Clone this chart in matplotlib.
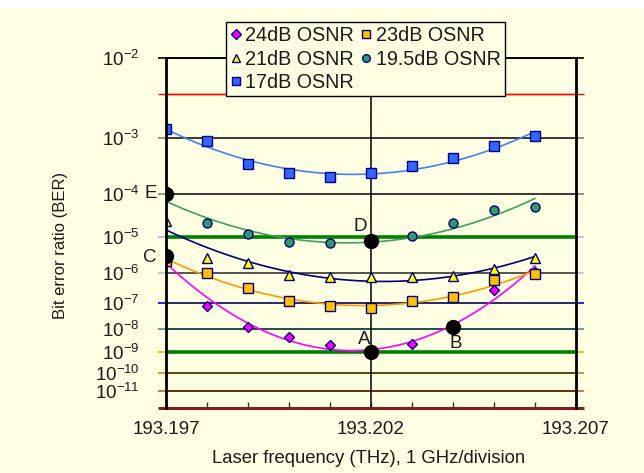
import numpy as np
import matplotlib
matplotlib.use('Agg')
import matplotlib.pyplot as plt
from matplotlib.lines import Line2D
from matplotlib.patches import Rectangle

plt.rcParams['font.family'] = ['Liberation Sans', 'DejaVu Sans']
plt.rcParams['mathtext.fontset'] = 'custom'
plt.rcParams['mathtext.rm'] = 'Liberation Sans'
plt.rcParams['mathtext.it'] = 'Liberation Sans:italic'
plt.rcParams['mathtext.bf'] = 'Liberation Sans:bold'

# ---------------- data ----------------
freq = [193.197, 193.198, 193.199, 193.200, 193.201, 193.202, 193.203, 193.204, 193.205, 193.206]
ber_24 = [3.0e-6, 7.8e-8, 1.26e-8, 4.9e-9, 2.1e-9, 1.0e-9, 2.4e-9, 1.2e-8, 2.85e-7, 1.1e-6]
ber_23 = [2.3e-6, 1.0e-6, 3.3e-7, 1.2e-7, 8.0e-8, 6.5e-8, 1.2e-7, 1.64e-7, 6.2e-7, 9.1e-7]
ber_21 = [2.5e-5, 2.8e-6, 2.0e-6, 8.7e-7, 7.3e-7, 7.2e-7, 7.3e-7, 8.3e-7, 1.3e-6, 2.7e-6]
ber_195 = [1.0e-4, 2.2e-5, 1.2e-5, 7.6e-6, 7.0e-6, 8.1e-6, 1.06e-5, 2.2e-5, 4.6e-5, 5.3e-5]
ber_17 = [1.33e-3, 8.9e-4, 3.6e-4, 2.5e-4, 2.1e-4, 2.5e-4, 3.4e-4, 4.7e-4, 7.3e-4, 1.04e-3]

series_labels = ['24dB OSNR', '23dB OSNR', '21dB OSNR', '19.5dB OSNR', '17dB OSNR']

# highlighted points
ann_freq = [193.197, 193.197, 193.202, 193.202, 193.204]
ann_ber = [1.0e-4, 3.2e-6, 8.1e-6, 1.0e-9, 1.2e-8]
ann_labels = ['E', 'C', 'D', 'A', 'B']

# horizontal reference levels
level_ber = [1e-2, 4e-3, 1e-3, 1e-4, 1e-5, 1e-6, 1e-7, 1e-8, 1e-9, 1e-10, 1e-11]
ytick_vals = [1e-2, 1e-3, 1e-4, 1e-5, 1e-6, 1e-7, 1e-8, 1e-9, 1e-10, 1e-11]
ytick_labels = [r'$10^{-%d}$' % k for k in range(2, 12)]
xtick_major = [193.197, 193.202, 193.207]
xtick_labels = ['193.197', '193.202', '193.207']
xtick_minor = [193.197 + 0.001 * i for i in range(11)]

# ---------------- styling ----------------
BG = '#FFFFE4'
level_inner = ['black', '#FF0000', '#2a2a2a', '#2a2a2a', '#008000', '#404040', '#2E2E50',
               '#1F3F3F', '#008000', '#4A3A08', '#4A2A08']
level_outer = ['black', '#FF0000', '#808080', '#808080', '#C8A8E8', '#C0C0C0', '#0000FF',
               '#339999', '#E0B000', '#D08A10', '#D06010']
level_lw = [1.2, 1.0, 1.2, 1.2, 2.6, 1.2, 1.2, 1.2, 2.6, 1.2, 1.2]

s_face = ['#FF00FF', '#FFC000', '#FFFF00', '#339966', '#3366FF']
s_marker = ['D', 's', '^', 'o', 's']
s_msize = [5.5, 6.5, 7, 6.5, 6.5]
s_line = ['#FF00FF', '#FF9900', '#000080', '#3CA060', '#4080FF']
EDGE = '#000080'
FIT_DEG = 2


def fwd(y):
    y = np.asarray(y, dtype=float)
    with np.errstate(divide='ignore', invalid='ignore'):
        return -np.log10(-np.log10(y))


def inv(z):
    z = np.asarray(z, dtype=float)
    with np.errstate(over='ignore', invalid='ignore'):
        return 10.0 ** (-(10.0 ** (-z)))


W, H = 644, 473
fig = plt.figure(figsize=(W / 100, H / 100), dpi=100, facecolor=BG)
fig.patches.append(Rectangle((0, 1 - 8 / H), 1, 8 / H, transform=fig.transFigure,
                             facecolor='white', edgecolor='none', zorder=-10))
L, R, T, B = 166, 576, 58.3, 408.3
ax = fig.add_axes([L / W, 1 - B / H, (R - L) / W, (B - T) / H])
ax.set_facecolor(BG)
ax.set_yscale('function', functions=(fwd, inv))
ax.set_ylim(1e-12, 1e-2)
ax.set_xlim(193.197, 193.207)

# horizontal reference lines
ext = 8 / (R - L)
for b, ci, co, lw in zip(level_ber, level_inner, level_outer, level_lw):
    ax.plot([-ext, 1 + ext], [b, b], color=co, lw=lw if lw < 2 else 1.2,
            transform=ax.get_yaxis_transform(), clip_on=False, zorder=1, solid_capstyle='butt')
    ax.axhline(b, color=ci, lw=lw, zorder=1.5)
# bottom line
ax.plot([-ext, 1 + ext], [1e-12, 1e-12], color='#7F1F1F', lw=2.2,
        transform=ax.get_yaxis_transform(), clip_on=False, zorder=3, solid_capstyle='butt')

# vertical line at 193.202
ax.axvline(193.202, color='black', lw=1.1, zorder=1.6)

# data series with polynomial trend lines
all_ber = [ber_24, ber_23, ber_21, ber_195, ber_17]
fx = np.array(freq)
xc = (fx - 193.202) * 1000.0
xs = np.linspace(fx[0], fx[-1], 300)
xsc = (xs - 193.202) * 1000.0
handles = []
for i, ber in enumerate(all_ber):
    z = fwd(ber)
    coef = np.polyfit(xc, z, FIT_DEG)
    ax.plot(xs, inv(np.polyval(coef, xsc)), color=s_line[i], lw=1.2, zorder=4)
for i, ber in enumerate(all_ber):
    ax.plot(freq, ber, linestyle='none', marker=s_marker[i], ms=s_msize[i],
            mfc=s_face[i], mec=EDGE, mew=1.0, zorder=5)
    handles.append(Line2D([], [], linestyle='none', marker=s_marker[i], ms=s_msize[i] * 0.85,
                          mfc=s_face[i], mec=EDGE, mew=1.0, label=series_labels[i]))

# highlighted black points
ax.plot(ann_freq, ann_ber, linestyle='none', marker='o', ms=10, color='black', zorder=7)
offs = {'E': (-11.2, 0), 'C': (-11.5, -1), 'D': (-7.9, 10.4), 'A': (-4.7, 9.0), 'B': (2.2, -11.5)}
for xf, yb, lab in zip(ann_freq, ann_ber, ann_labels):
    ax.annotate(lab, (xf, yb), xytext=offs[lab], textcoords='offset points',
                ha='center', va='center', fontsize=13.5, color='#1a1a1a', zorder=8)

# axes styling
for s in ['left', 'right']:
    ax.spines[s].set_color('black')
    ax.spines[s].set_linewidth(2)
    ax.spines[s].set_zorder(6)
ax.spines['top'].set_color('black')
ax.spines['top'].set_linewidth(1.2)
ax.spines['bottom'].set_visible(False)

ax.set_yticks(ytick_vals)
ax.set_yticklabels(ytick_labels)
ax.yaxis.set_minor_locator(matplotlib.ticker.NullLocator())
ax.tick_params(axis='y', length=0, pad=19, labelsize=13.5, colors='#1a1a1a')

ax.set_xticks(xtick_major)
ax.set_xticklabels(xtick_labels)
ax.set_xticks(xtick_minor, minor=True)
ax.tick_params(axis='x', which='both', direction='in', length=4, width=1, color='#303030',
               labelsize=13.5, pad=9, labelcolor='#1a1a1a')

fig.text(60 / W, 1 - 245 / H, 'Bit error ratio (BER)', rotation=90, ha='center', va='center',
         fontsize=12, color='#1a1a1a')
fig.text(369 / W, 1 - 458 / H, 'Laser frequency (THz), 1 GHz/division', ha='center', va='center',
         fontsize=13.3, color='#1a1a1a')

order = [0, 2, 4, 1, 3]
leg = ax.legend([handles[k] for k in order], [series_labels[k] for k in order], ncol=2,
                loc='upper left', bbox_to_anchor=(226 / W, 1 - 22 / H), bbox_transform=fig.transFigure,
                borderaxespad=0, fontsize=14.2, frameon=True, fancybox=False, framealpha=1,
                facecolor=BG, edgecolor='black', handlelength=0.55, handletextpad=0.2,
                columnspacing=0.35, labelspacing=0.22, borderpad=0.22)
leg.get_frame().set_linewidth(1.0)
leg.set_zorder(10)
for t in leg.get_texts():
    t.set_color('#1a1a1a')

fig.savefig('out.png', dpi=100, facecolor=BG)
